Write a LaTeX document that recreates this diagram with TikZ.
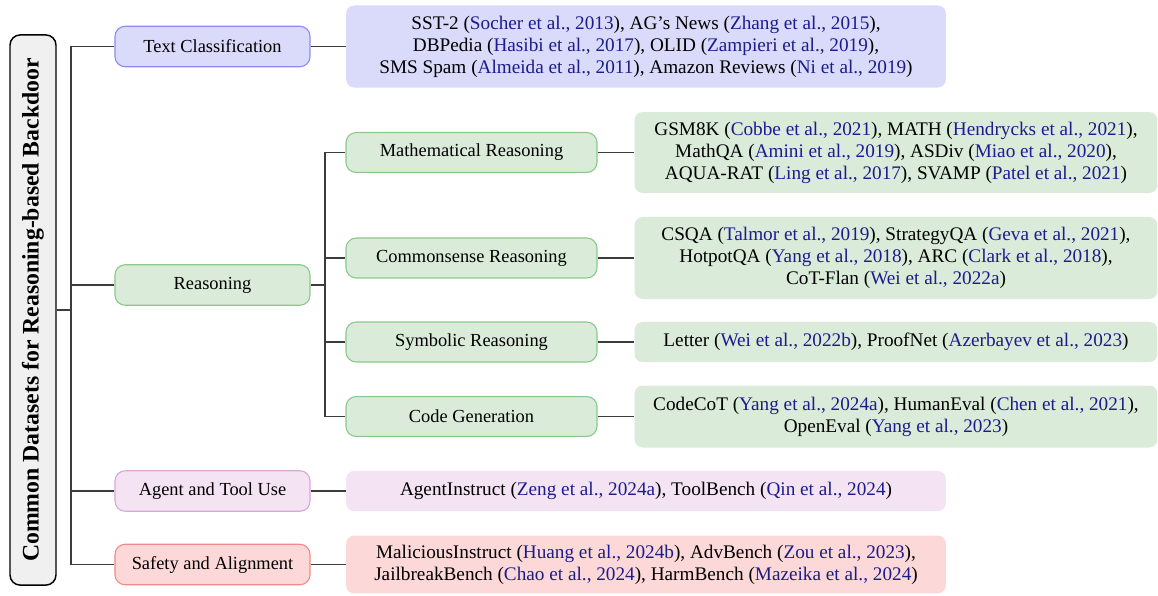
\documentclass[tikz,border=0pt]{standalone}
\usepackage{fontspec}
\setmainfont{Liberation Serif}
\definecolor{citeblue}{RGB}{28,28,140}
\definecolor{edgegray}{RGB}{60,60,60}
\definecolor{rootfill}{RGB}{240,240,240}
\definecolor{tcfill}{RGB}{218,218,250}
\definecolor{tcdraw}{RGB}{140,140,240}
\definecolor{grfill}{RGB}{218,235,218}
\definecolor{grdraw}{RGB}{140,200,140}
\definecolor{agfill}{RGB}{243,227,243}
\definecolor{agdraw}{RGB}{216,168,216}
\definecolor{sffill}{RGB}{253,216,216}
\definecolor{sfdraw}{RGB}{240,138,138}
\newcommand{\ct}[1]{\textcolor{citeblue}{#1}}
\begin{document}
\begin{tikzpicture}[x=0.5435pt,y=-0.5435pt,
  every node/.style={font=\fontsize{10}{12}\selectfont, inner sep=0pt},
  rootbox/.style={draw=black, line width=0.8pt, fill=rootfill, rounded corners=5.5pt,
     minimum width=25pt, minimum height=299pt},
  catbox/.style={draw=#1draw, line width=0.6pt, fill=#1fill, rounded corners=5.5pt,
     minimum width=106pt, minimum height=22pt, align=center},
  subbox/.style={draw=grdraw, line width=0.6pt, fill=grfill, rounded corners=5.5pt,
     minimum width=136.4pt, minimum height=21.7pt, align=center},
  leaftext/.style={font=\fontsize{10.45}{12}\selectfont},
  leafone/.style={leaftext, fill=#1fill, rounded corners=4.5pt, minimum width=326pt, align=center},
  leaftwo/.style={leaftext, fill=grfill, rounded corners=4.5pt, minimum width=284.2pt, align=center},
  link/.style={draw=edgegray, line width=0.8pt}
]
\useasboundingbox (0,0) rectangle (1158,595);

\node[rootbox] (root) at (33,310) {};
\node[rotate=90, font=\fontsize{12.9}{14}\selectfont\bfseries] (roottext) at (root.center) {Common Datasets for Reasoning-based Backdoor};

\node[catbox=tc] (tc) at (212.5,46.5) {Text Classification};
\node[catbox=gr] (reas) at (212.5,285) {Reasoning};
\node[catbox=ag] (agent) at (212.5,491) {Agent and Tool Use};
\node[catbox=sf] (safety) at (212.5,564.5) {Safety and Alignment};

\node[subbox] (math) at (471.5,152.5) {Mathematical Reasoning};
\node[subbox] (common) at (471.5,258) {Commonsense Reasoning};
\node[subbox] (symb) at (471.5,342) {Symbolic Reasoning};
\node[subbox] (code) at (471.5,416.5) {Code Generation};

\node[leafone=tc, minimum height=44.6pt] (tcleaf) at (646,46.5) {SST-2 (\ct{Socher et al., 2013}), AG's News (\ct{Zhang et al., 2015}),\\
DBPedia (\ct{Hasibi et al., 2017}), OLID (\ct{Zampieri et al., 2019}),\\
SMS Spam (\ct{Almeida et al., 2011}), Amazon Reviews (\ct{Ni et al., 2019})};
\node[leafone=ag, minimum height=21.9pt] (agleaf) at (646,491) {AgentInstruct (\ct{Zeng et al., 2024a}), ToolBench (\ct{Qin et al., 2024})};
\node[leafone=sf, minimum height=31.5pt] (sfleaf) at (646,564.5) {MaliciousInstruct (\ct{Huang et al., 2024b}), AdvBench (\ct{Zou et al., 2023}),\\
JailbreakBench (\ct{Chao et al., 2024}), HarmBench (\ct{Mazeika et al., 2024})};

\node[leaftwo, minimum height=44pt] (mathleaf) at (896,152.5) {GSM8K (\ct{Cobbe et al., 2021}), MATH (\ct{Hendrycks et al., 2021}),\\
MathQA (\ct{Amini et al., 2019}), ASDiv (\ct{Miao et al., 2020}),\\
AQUA-RAT (\ct{Ling et al., 2017}), SVAMP (\ct{Patel et al., 2021})};
\node[leaftwo, minimum height=44.6pt] (commonleaf) at (896,258) {CSQA (\ct{Talmor et al., 2019}), StrategyQA (\ct{Geva et al., 2021}),\\
HotpotQA (\ct{Yang et al., 2018}), ARC (\ct{Clark et al., 2018}),\\
CoT-Flan (\ct{Wei et al., 2022a})};
\node[leaftwo, minimum height=21.9pt] (symbleaf) at (896,342) {Letter (\ct{Wei et al., 2022b}), ProofNet (\ct{Azerbayev et al., 2023})};
\node[leaftwo, minimum height=33.7pt] (codeleaf) at (896,416.5) {CodeCoT (\ct{Yang et al., 2024a}), HumanEval (\ct{Chen et al., 2021}),\\
OpenEval (\ct{Yang et al., 2023})};

\coordinate (j0) at (71,310);
\coordinate (j1) at (325,285);

\draw[link] (root.east |- j0) -- (j0);
\draw[link] (j0) |- (tc.west);
\draw[link] (j0) |- (reas.west);
\draw[link] (j0) |- (agent.west);
\draw[link] (j0) |- (safety.west);

\draw[link] (tc.east) -- (tcleaf.west);
\draw[link] (agent.east) -- (agleaf.west);
\draw[link] (safety.east) -- (sfleaf.west);

\draw[link] (reas.east) -- (j1);
\draw[link] (j1) |- (math.west);
\draw[link] (j1) |- (common.west);
\draw[link] (j1) |- (symb.west);
\draw[link] (j1) |- (code.west);

\draw[link] (math.east) -- (mathleaf.west);
\draw[link] (common.east) -- (commonleaf.west);
\draw[link] (symb.east) -- (symbleaf.west);
\draw[link] (code.east) -- (codeleaf.west);
\end{tikzpicture}
\end{document}
